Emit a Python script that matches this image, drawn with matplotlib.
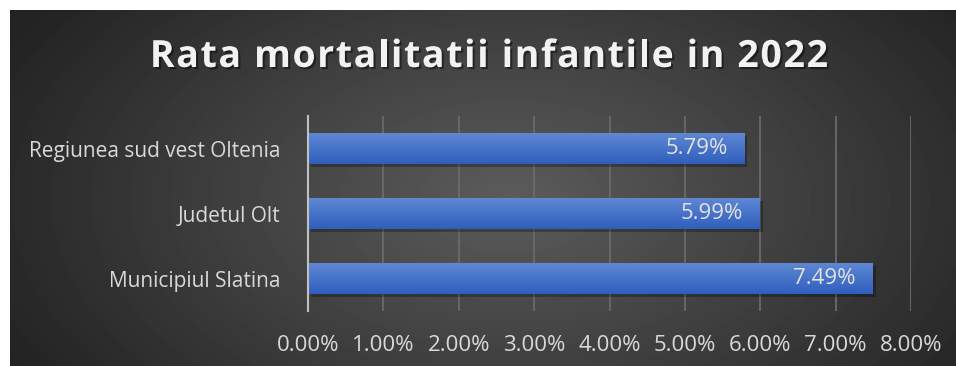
import matplotlib.pyplot as plt
import matplotlib.patheffects as pe
import numpy as np
from matplotlib.ticker import FuncFormatter
from matplotlib.colors import LinearSegmentedColormap

plt.rcParams["font.family"] = ["Open Sans", "DejaVu Sans"]

# Dane
categories = ["Municipiul Slatina", "Judetul Olt", "Regiunea sud vest Oltenia"]
values = [7.49, 5.99, 5.79]
title = "Rata mortalitatii infantile in 2022"
xticks = [0, 1, 2, 3, 4, 5, 6, 7, 8]

fig = plt.figure(figsize=(9.56, 3.66), dpi=100)
fig.patch.set_facecolor("white")

# tlo - gradient radialny
bg = fig.add_axes([10 / 956, 0, 946 / 956, 356 / 366])
yy, xx = np.mgrid[0:356, 0:946]
r = np.sqrt(((xx - 500) / 560) ** 2 + ((yy - 190) / 330) ** 2)
shade = np.clip(0.36 - 0.22 * r, 0.14, 0.36)
bg.imshow(shade, cmap="gray", vmin=0, vmax=1, aspect="auto",
          extent=[0, 1, 0, 1], origin="upper")
bg.set_axis_off()

ax = fig.add_axes([308 / 956, 55 / 366, 603 / 956, 195 / 366])
ax.patch.set_alpha(0)
y = np.arange(len(categories))
h = 0.48

# cien pod slupkami
ax.barh(y - 0.05, values, h, left=0.04, color="black", alpha=0.28, zorder=2)
bars = ax.barh(y, values, h, color="#4470c8", zorder=3)

# gradient na slupkach
grad = np.linspace(0, 1, 50).reshape(-1, 1)
cmap = LinearSegmentedColormap.from_list("b", ["#2f5fbe", "#6088d4"])
for b in bars:
    x0, y0 = b.get_x(), b.get_y()
    im = ax.imshow(grad, cmap=cmap, aspect="auto", origin="lower",
                   extent=[x0, x0 + b.get_width(), y0, y0 + b.get_height()],
                   zorder=3.5)
    im.set_clip_path(b)

for yi, v in zip(y, values):
    ax.text(v - 0.22, yi, f"{v:.2f}%", ha="right", va="center",
            color="#e2e2e2", fontsize=16, zorder=5)

ax.set_xlim(0, 8)
ax.set_ylim(-0.5, 2.5)
ax.set_xticks(xticks)
ax.xaxis.set_major_formatter(FuncFormatter(lambda v, p: f"{v:.2f}%"))
ax.set_yticks(y)
ax.set_yticklabels(categories)
ax.tick_params(axis="both", length=0, colors="#d9d9d9", labelsize=16)
ax.tick_params(axis="y", pad=20, labelsize=15)
ax.tick_params(axis="x", pad=17)
ax.grid(True, axis="x", color="#6a6a6a", linewidth=1.3, zorder=1)
ax.set_axisbelow(True)
for s in ["top", "right", "bottom"]:
    ax.spines[s].set_visible(False)
ax.spines["left"].set_color("#c0c0c0")
ax.spines["left"].set_linewidth(1.5)
ax.spines["left"].set_zorder(4)

# tytul z odstepami miedzy literami
renderer = fig.canvas.get_renderer()
tkw = dict(color="#f2f2f2", fontsize=27, fontweight="bold", va="center",
           path_effects=[pe.withSimplePatchShadow(offset=(1.5, -1.5),
                                                  shadow_rgbFace="black",
                                                  alpha=0.45)])
spacing = 1.6
probe = fig.text(0, 0, title, **tkw)
full_w = probe.get_window_extent(renderer).width
probe.remove()
total = full_w + spacing * (len(title) - 1)
x_start = 489 - total / 2
y_pix = 366 - 57
t2 = fig.text(0, 0, "|", **tkw)
w_bar = t2.get_window_extent(renderer).width
t2.remove()
for i, ch in enumerate(title):
    off = 0
    if i > 0:
        t = fig.text(0, 0, title[:i] + "|", **tkw)
        off = t.get_window_extent(renderer).width - w_bar
        t.remove()
    fig.text((x_start + off + spacing * i) / 956, y_pix / 366, ch,
             ha="left", **tkw)

fig.savefig("out.png", dpi=100)
